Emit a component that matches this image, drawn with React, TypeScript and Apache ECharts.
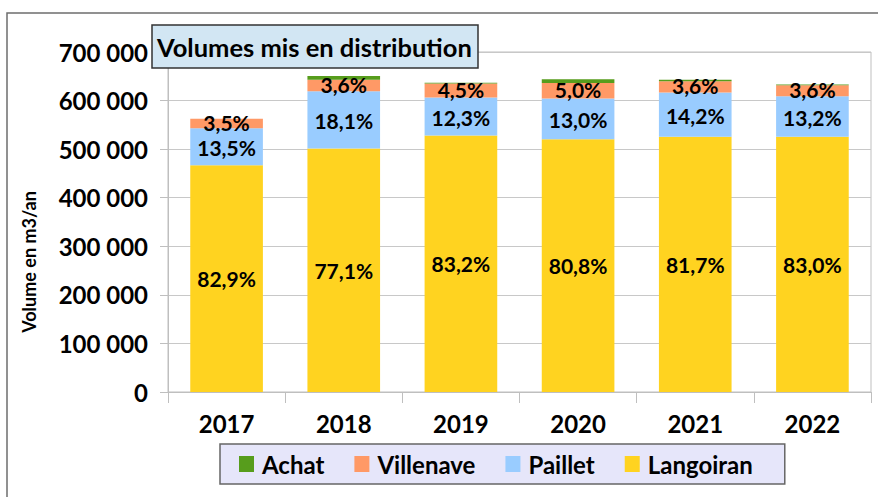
import React, { useEffect, useRef } from "react";
import * as echarts from "echarts";

const categories = ["2017", "2018", "2019", "2020", "2021", "2022"];
const langoiran = [467000, 501500, 528300, 520500, 525500, 525400];
const paillet = [76000, 117800, 78100, 83700, 91300, 83600];
const villenave = [19700, 23400, 28600, 32200, 23100, 22800];
const achat = [0, 7800, 1500, 7700, 3200, 1300];

const pctLangoiran = ["82,9", "77,1", "83,2", "80,8", "81,7", "83,0"];
const pctPaillet = ["13,5", "18,1", "12,3", "13,0", "14,2", "13,2"];
const pctVillenave = ["3,5", "3,6", "4,5", "5,0", "3,6", "3,6"];

const legendOrder = ["Achat", "Villenave", "Paillet", "Langoiran"];
const chartTitle = "Volumes mis en distribution";
const yTitle = "Volume en m3/an";

const FONT = "Lato, 'Open Sans', sans-serif";

function fmtThousands(v: number): string {
  return String(v).replace(/\B(?=(\d{3})+(?!\d))/g, " ");
}

export default function App() {
  const ref = useRef<HTMLDivElement>(null);
  useEffect(() => {
    if (!ref.current) return;
    const chart = echarts.init(ref.current, null, { renderer: "svg" });
    const labelStyle = (pcts: string[], offsetY: number) => ({
      show: true,
      position: "inside",
      offset: [0, offsetY],
      color: "#000",
      fontFamily: FONT,
      fontWeight: "bold",
      fontSize: 21,
      lineHeight: 20,
      formatter: (p: any) => pcts[p.dataIndex] + "%",
    });
    chart.setOption({
      animation: false,
      backgroundColor: "#fff",
      textStyle: { fontFamily: FONT },
      grid: {
        left: 168,
        top: 52,
        right: 7,
        bottom: 105,
        show: true,
        borderColor: "#BFBFBF",
        borderWidth: 1,
        containLabel: false,
      },
      legend: {
        data: legendOrder,
        left: 220,
        top: 444,
        orient: "horizontal",
        itemWidth: 15,
        itemHeight: 16,
        itemGap: 30,
        padding: [8, 32, 8, 19],
        backgroundColor: "#E6E6FA",
        borderColor: "#666",
        borderWidth: 1.5,
        borderRadius: 0,
        icon: "rect",
        textStyle: {
          fontFamily: FONT,
          fontWeight: "bold",
          fontSize: 24,
          color: "#000",
          padding: [0, 0, 0, 3],
        },
      },
      xAxis: {
        type: "category",
        data: categories,
        axisLine: { lineStyle: { color: "#BFBFBF", width: 1 } },
        axisTick: { show: true, length: 11, lineStyle: { color: "#BFBFBF" } },
        axisLabel: {
          margin: 19,
          color: "#000",
          fontFamily: FONT,
          fontWeight: "bold",
          fontSize: 24,
        },
      },
      yAxis: {
        type: "value",
        min: 0,
        max: 700000,
        interval: 100000,
        axisLine: { show: true, lineStyle: { color: "#BFBFBF", width: 1 } },
        axisTick: { show: true, length: 8, lineStyle: { color: "#BFBFBF" } },
        splitLine: { show: true, lineStyle: { color: "#C8C8C8", width: 1 } },
        axisLabel: {
          margin: 20,
          color: "#000",
          fontFamily: FONT,
          fontWeight: "bold",
          fontSize: 24,
          formatter: (v: number) => fmtThousands(v),
        },
      },
      series: [
        {
          name: "Langoiran",
          type: "bar",
          stack: "total",
          barWidth: "62%",
          data: langoiran,
          itemStyle: { color: "#FFD320" },
          label: labelStyle(pctLangoiran, 0),
        },
        {
          name: "Paillet",
          type: "bar",
          stack: "total",
          data: paillet,
          itemStyle: { color: "#99CCFF" },
          label: labelStyle(pctPaillet, 1),
        },
        {
          name: "Villenave",
          type: "bar",
          stack: "total",
          data: villenave,
          itemStyle: { color: "#FF9966" },
          label: labelStyle(pctVillenave, -1),
        },
        {
          name: "Achat",
          type: "bar",
          stack: "total",
          data: achat,
          itemStyle: { color: "#579D1C" },
          label: { show: false },
        },
      ],
      graphic: [
        {
          type: "rect",
          z: -10,
          silent: true,
          shape: { x: 7, y: 13, width: 900, height: 600 },
          style: { fill: "none", stroke: "#6E6E6E", lineWidth: 1.5 },
        },
        {
          type: "rect",
          z: 100,
          shape: { x: 152, y: 25, width: 326, height: 43 },
          style: { fill: "#D2E6F3", stroke: "#333", lineWidth: 1.5 },
        },
        {
          type: "text",
          z: 101,
          x: 157,
          y: 47,
          style: {
            text: chartTitle,
            fill: "#000",
            font: "bold 25.5px " + FONT,
            textVerticalAlign: "middle",
            textAlign: "left",
          },
        },
        {
          type: "text",
          z: 101,
          x: 29,
          y: 262,
          rotation: Math.PI / 2,
          style: {
            text: yTitle,
            fill: "#000",
            font: "bold 18px " + FONT,
            textVerticalAlign: "middle",
            textAlign: "center",
          },
        },
      ],
    });
    return () => chart.dispose();
  }, []);
  return (
    <div
      ref={ref}
      style={{ position: "absolute", left: 0, top: 0, width: 878, height: 497 }}
    />
  );
}
